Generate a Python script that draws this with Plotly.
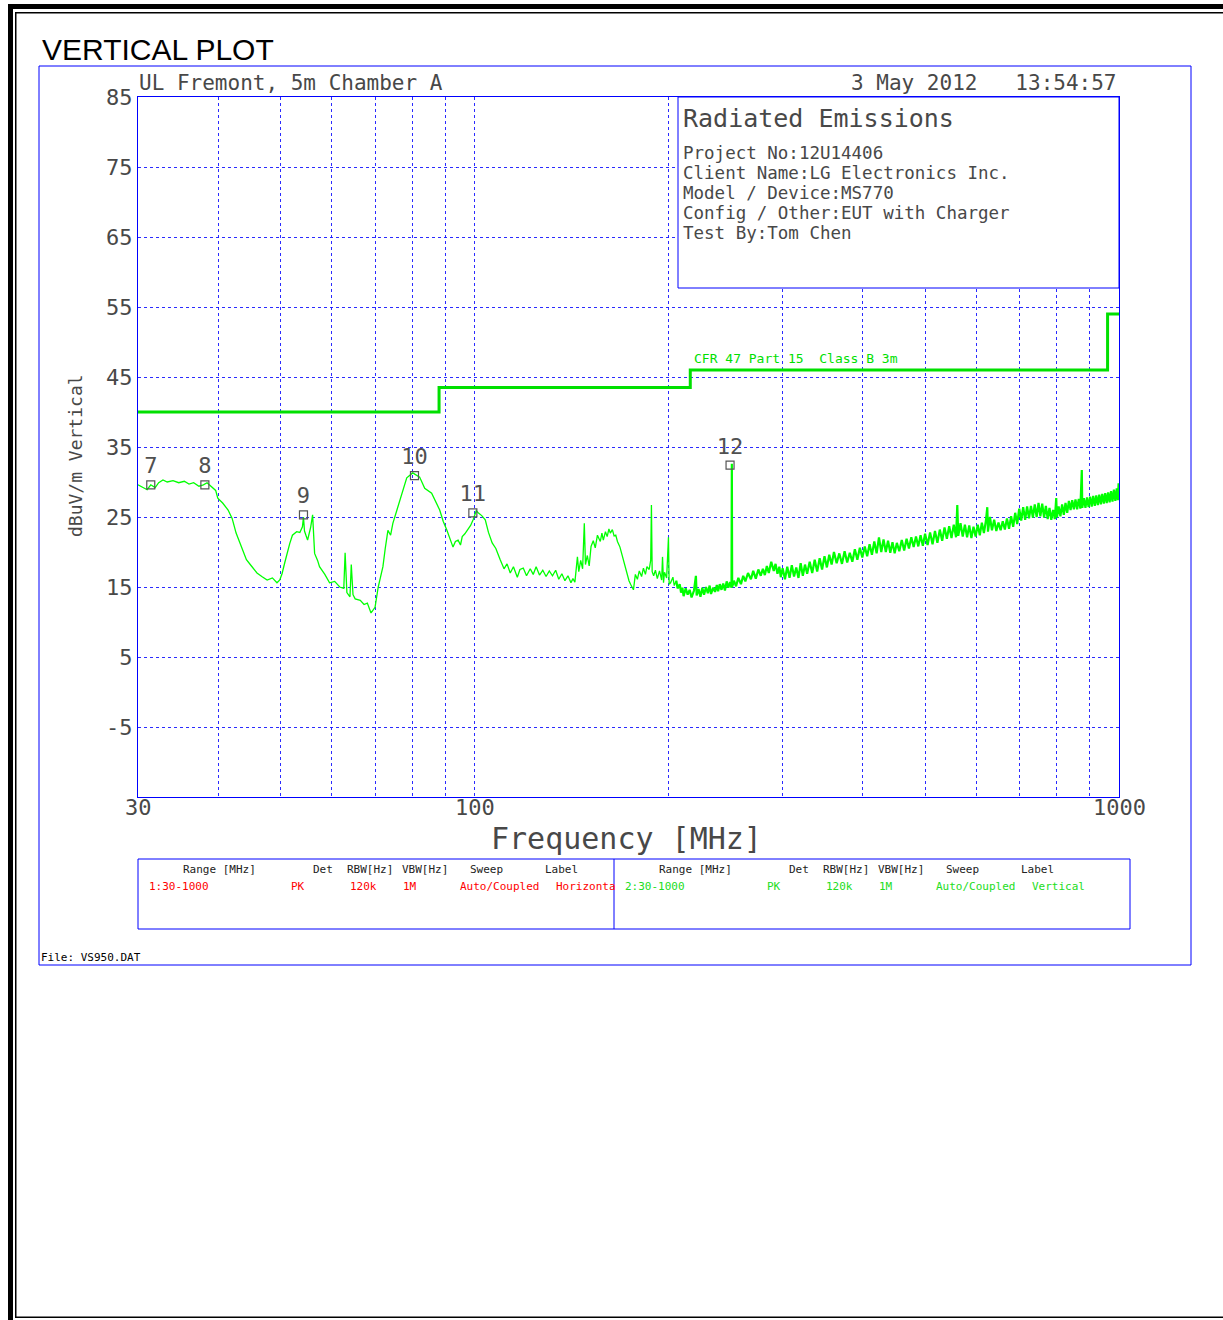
import math
import plotly.graph_objects as go

W, H = 1223, 1320

# ---------------- data ----------------
trace_freq = [
    30.0, 30.5, 31.0, 31.4, 31.9, 32.3, 32.8, 33.3, 34.0, 34.7, 35.4, 36.0, 36.6, 37.3, 37.9, 38.4, 39.0, 39.6,
    39.9, 40.6, 41.4, 42.0, 42.6, 43.4, 44.2, 45.0, 45.9, 46.7, 47.6, 48.5, 49.3, 49.8, 50.2, 50.7, 51.1, 51.6,
    52.1, 52.9, 53.5, 54.0, 54.2, 54.4, 55.0, 55.6, 56.0, 56.4, 57.0, 57.4, 58.5, 59.5, 60.6, 61.7, 62.6, 62.9,
    63.3, 64.0, 64.3, 64.7, 65.2, 66.4, 67.3, 68.1, 69.0, 70.0, 70.8, 72.0, 72.6, 73.3, 74.0, 74.6, 75.7, 77.0,
    78.4, 80.1, 81.0, 82.1, 83.6, 85.7, 88.2, 89.3, 90.5, 91.5, 92.5, 93.3, 94.2, 95.0, 95.6, 96.5, 97.3, 98.5,
    99.4, 100.5, 101.2, 102.5, 103.8, 105.0, 106.4, 107.8, 109.5, 111.0, 112.2, 113.5, 114.8, 116.4, 117.5, 118.9,
    120.3, 121.9, 123.2, 124.5, 126.0, 127.5, 129.0, 130.5, 132.0, 133.5, 135.0, 136.5, 138.0, 139.5, 141.0, 142.0,
    143.0, 144.3, 145.0, 146.0, 147.0, 147.9, 148.5, 149.5, 150.5, 151.5, 152.7, 153.8, 155.0, 156.6, 157.5, 158.3,
    159.5, 160.5, 161.5, 162.3, 163.5, 164.5, 165.5, 166.5, 168.0, 169.5, 171.0, 172.5, 173.5, 174.5, 175.5, 176.3,
    177.5, 178.8, 180.0, 181.5, 182.7, 184.0, 185.0, 186.5, 187.5, 188.0, 188.5, 189.5, 190.7, 192.0, 193.5, 195.0,
    195.6, 196.3, 197.0, 198.5, 199.8, 200.3, 201.3, 203.0, 204.0, 205.5, 206.4, 208.0, 209.0, 210.0, 210.9, 212.5,
    214.0, 215.5, 217.0, 218.9, 220.4, 221.0, 222.5, 224.0, 225.5, 226.9, 228.5, 230.0, 231.5, 232.6, 234.5, 236.0,
    237.5, 238.6, 240.0, 241.5, 243.0, 244.5, 246.0, 247.5, 249.0, 250.3, 250.6, 250.9, 252.5, 254.4, 256.5, 258.9,
    261.0, 263.0, 265.5, 268.3, 270.5, 273.0, 275.5, 277.9, 280.0, 282.0, 284.0, 286.0, 288.5, 291.1, 293.0, 295.0,
    297.0, 298.5, 300.5, 303.0, 305.5, 308.0, 310.5, 313.0, 315.5, 318.0, 320.5, 323.0, 325.5, 328.0, 331.0, 334.0,
    337.0, 340.0, 343.0, 346.0, 349.0, 352.0, 355.0, 358.0, 361.0, 364.5, 368.0, 371.5, 375.0, 378.5, 382.0, 385.5,
    389.0, 392.5, 396.0, 399.5, 403.0, 406.5, 410.0, 413.5, 417.0, 420.5, 424.0, 427.5, 431.0, 434.5, 438.0, 441.5,
    445.0, 448.5, 452.0, 456.0, 460.0, 464.0, 468.0, 472.0, 476.0, 480.0, 484.0, 488.0, 492.0, 496.0, 500.0, 504.5,
    509.0, 513.5, 518.0, 522.5, 527.0, 531.5, 536.0, 540.5, 545.0, 549.5, 554.0, 558.5, 561.0, 563.0, 567.5, 572.0,
    576.5, 581.0, 585.5, 590.0, 594.5, 599.0, 603.5, 608.0, 612.5, 617.0, 621.5, 624.5, 626.0, 630.5, 635.0, 640.0,
    645.0, 650.0, 655.0, 660.0, 665.0, 670.0, 675.0, 680.0, 685.0, 690.0, 695.0, 700.0, 705.0, 710.0, 715.0, 720.0,
    725.0, 730.0, 735.0, 740.0, 745.0, 750.0, 755.0, 760.0, 765.0, 770.0, 775.0, 780.0, 785.0, 790.0, 795.0, 799.0,
    801.0, 806.0, 811.0, 816.0, 821.0, 826.0, 831.0, 836.0, 841.0, 846.0, 851.0, 856.0, 861.0, 866.0, 871.0, 875.5,
    877.0, 882.0, 887.0, 892.0, 897.0, 902.0, 907.0, 912.0, 917.0, 922.0, 927.0, 932.0, 937.0, 942.0, 947.0, 952.0,
    957.0, 962.0, 967.0, 972.0, 977.0, 982.0, 987.0, 992.0, 996.0, 998.5, 1000.0,
]
trace_level = [
    29.6, 29.3, 28.9, 29.6, 29.2, 29.9, 30.3, 30.0, 30.2, 29.9, 30.1, 29.7, 29.9, 29.4, 29.6, 29.9, 29.4, 28.8,
    27.7, 27.0, 26.0, 24.8, 22.7, 20.8, 18.9, 18.0, 17.0, 16.5, 16.0, 16.3, 15.6, 16.0, 16.9, 18.5, 19.9, 21.2,
    22.4, 22.9, 22.8, 23.6, 25.0, 23.0, 21.7, 23.5, 25.3, 19.8, 18.8, 17.9, 16.8, 15.6, 15.8, 15.0, 14.8, 19.9,
    14.2, 13.6, 18.2, 13.9, 13.3, 13.1, 12.5, 12.7, 11.3, 12.1, 15.0, 17.9, 20.5, 23.1, 22.4, 24.1, 26.0, 28.4,
    30.6, 31.3, 31.0, 30.7, 29.1, 28.4, 26.0, 24.4, 23.1, 21.8, 20.7, 21.5, 21.7, 21.0, 22.2, 22.6, 23.1, 23.8,
    24.6, 25.9, 25.6, 25.2, 24.6, 22.8, 21.3, 20.5, 18.9, 17.6, 18.3, 17.0, 17.9, 16.4, 17.5, 17.7,
    16.6, 17.6, 16.8, 17.9, 16.7, 17.4, 16.5, 17.3, 16.6, 17.4, 16.1, 16.9, 15.9, 16.6, 15.6, 16.2,
    15.7, 19.3, 17.2, 18.8, 17.6, 24.1, 18.2, 19.5, 18.0, 20.8, 21.6, 20.6, 22.4, 21.5, 22.7, 21.7,
    22.9, 22.2, 23.3, 22.7, 23.2, 22.3, 22.4, 21.5, 20.7, 19.3, 17.9, 16.4, 15.9, 15.4, 15.0, 14.6,
    16.8, 16.1, 17.3, 16.5, 17.7, 16.8, 17.9, 17.5, 18.8, 26.7, 17.2, 16.6, 17.4, 16.2, 17.3, 16.0,
    19.3, 15.6, 17.1, 16.3, 22.1, 15.4, 15.6, 16.4, 15.2, 15.9, 14.8, 15.4, 14.2, 14.9, 13.7, 14.8,
    13.9, 14.6, 13.5, 14.5, 16.6, 13.8, 14.7, 13.6, 14.9, 13.9, 15.0, 14.1, 15.2, 14.0, 14.9, 14.3,
    15.3, 14.4, 15.4, 14.6, 15.5, 14.5, 15.8, 14.9, 15.7, 14.9, 32.6, 15.0, 15.9, 15.1, 16.3, 15.4,
    16.6, 15.8, 17.0, 16.1, 17.3, 16.2, 17.5, 16.6, 17.6, 16.7, 18.0, 17.0, 18.6, 17.3, 18.3, 16.9,
    17.9, 16.4, 17.7, 16.1, 17.9, 16.3, 18.1, 16.5, 17.8, 16.3, 18.4, 16.6, 18.2, 16.9, 18.6, 17.0,
    18.9, 17.2, 19.1, 17.5, 19.4, 17.8, 19.6, 18.2, 20.0, 18.4, 19.8, 18.3, 20.1, 18.5, 19.9, 18.6,
    20.4, 18.9, 20.6, 19.2, 20.8, 19.4, 21.1, 19.6, 21.5, 19.8, 22.1, 20.0, 21.8, 20.0, 21.6, 19.9,
    21.4, 19.8, 21.3, 20.1, 21.7, 20.2, 21.9, 20.5, 22.1, 20.7, 22.2, 20.8, 22.4, 20.9, 22.6, 21.0,
    22.8, 21.1, 23.0, 21.3, 23.2, 21.6, 23.5, 21.9, 23.7, 22.0, 23.9, 22.1, 26.7, 22.3, 24.1, 22.2,
    23.9, 22.1, 23.8, 22.0, 23.6, 22.2, 23.9, 22.4, 24.2, 22.7, 24.5, 26.4, 22.9, 25.0, 23.1, 24.6,
    23.0, 24.2, 23.1, 24.4, 23.2, 24.8, 23.3, 25.1, 23.6, 25.6, 24.0, 26.2, 24.5, 26.4, 24.6, 26.5,
    24.8, 26.6, 24.9, 26.8, 25.0, 27.0, 25.1, 26.9, 24.9, 26.6, 24.7, 26.3, 24.6, 26.0, 24.7, 27.7,
    24.9, 26.5, 25.1, 26.8, 25.3, 27.0, 25.6, 27.3, 26.0, 27.4, 26.1, 27.5, 26.1, 27.6, 26.2, 31.7,
    26.3, 27.7, 26.3, 27.8, 26.4, 27.9, 26.5, 28.0, 26.6, 28.1, 26.7, 28.2, 26.8, 28.3, 26.9, 28.4,
    27.0, 28.5, 27.1, 28.7, 27.2, 28.9, 27.3, 29.1, 27.4, 29.8, 28.6,
]

limit_freq = [30, 88, 216, 960, 1000]
limit_level = [40.0, 43.5, 46.0, 54.0, 54.0]

marker_freq = [31.4, 38.1, 54.2, 80.6, 99.3, 249.0]
marker_level = [29.6, 29.6, 25.3, 30.9, 25.6, 32.4]
marker_label = ["7", "8", "9", "10", "11", "12"]

x_grid = [30, 40, 50, 60, 70, 80, 90, 100, 200, 300, 400, 500, 600, 700, 800, 900, 1000]
x_label_vals = [30, 100, 1000]
x_label_text = ["30", "100", "1000"]
y_grid = [-15, -5, 5, 15, 25, 35, 45, 55, 65, 75, 85]
y_ticklabels = ["", "-5", "5", "15", "25", "35", "45", "55", "65", "75", "85"]

info_lines = [
    "Project No:12U14406",
    "Client Name:LG Electronics Inc.",
    "Model / Device:MS770",
    "Config / Other:EUT with Charger",
    "Test By:Tom Chen",
]
table_headers = ["Range [MHz]", "Det", "RBW[Hz]", "VBW[Hz]", "Sweep", "Label"]
table_row1 = ["1:30-1000", "PK", "120k", "1M", "Auto/Coupled", "Horizonta"]
table_row2 = ["2:30-1000", "PK", "120k", "1M", "Auto/Coupled", "Vertical"]

# ---------------- figure ----------------
MONO = "DejaVu Sans Mono, monospace"
TXT = "#484848"
BLUE = "#0000ff"
GRID = "rgba(20,20,255,0.9)"


def px(x):
    return x / W


def py(y):
    return 1 - y / H


# split the sweep where the dense noise band begins (drawn heavier, as in the analyser plot)
split = next(i for i, f in enumerate(trace_freq) if f >= 205.5)

fig = go.Figure()

fig.add_trace(go.Scatter(
    x=trace_freq[:split + 1], y=trace_level[:split + 1], mode="lines",
    line=dict(color="#00ff00", width=1.3), hoverinfo="skip",
))
fig.add_trace(go.Scatter(
    x=trace_freq[split:], y=trace_level[split:], mode="lines",
    line=dict(color="#00ff00", width=2.2), hoverinfo="skip",
))
fig.add_trace(go.Scatter(
    x=limit_freq, y=limit_level, mode="lines",
    line=dict(color="#00e000", width=3, shape="hv"), hoverinfo="skip",
))
fig.add_trace(go.Scatter(
    x=marker_freq, y=marker_level, mode="markers+text",
    text=marker_label, textposition="top center",
    textfont=dict(family=MONO, size=22, color="#505050"),
    marker=dict(symbol="square-open", size=8, color="#555555", line=dict(width=1.2, color="#555555")),
    hoverinfo="skip",
))

shapes = []


def rect(x0, y0, x1, y1, fill=None, line_color=None, lw=1):
    d = dict(type="rect", xref="paper", yref="paper",
             x0=px(x0), x1=px(x1), y0=py(y1), y1=py(y0), layer="above")
    if fill:
        d["fillcolor"] = fill
    if line_color:
        d["line"] = dict(color=line_color, width=lw)
    else:
        d["line"] = dict(width=0)
    shapes.append(d)


# black page frame
rect(8, 4, 1223, 9, fill="black")
rect(8, 4, 13, 1320, fill="black")
rect(15, 12, 1223, 13.5, fill="black")
rect(15, 12, 16.5, 1318, fill="black")
rect(15, 1316.5, 1223, 1318, fill="black")
# blue outer box
rect(39, 66, 1191, 965, line_color=BLUE, lw=1)
# info box
rect(678, 97, 1119, 288, fill="white", line_color=BLUE, lw=1)
# table box
rect(138, 859, 1130, 929, line_color=BLUE, lw=1)
shapes.append(dict(type="line", xref="paper", yref="paper", x0=px(614), x1=px(614),
                   y0=py(859), y1=py(929), line=dict(color=BLUE, width=1), layer="above"))

ann = []


def text(x, y, s, size, color=TXT, xanchor="left", family=MONO, angle=0):
    ann.append(dict(x=px(x), y=py(y), xref="paper", yref="paper", text=s, showarrow=False,
                    xanchor=xanchor, yanchor="middle", textangle=angle,
                    font=dict(family=family, size=size, color=color)))


text(40, 50, "VERTICAL PLOT", 30, color="black", family="Liberation Sans, Arial, sans-serif")
text(137, 83, "UL Fremont, 5m Chamber A", 21)
text(1119, 83, "3 May 2012   13:54:57", 21, xanchor="right")
text(681, 119, "Radiated Emissions", 25)
for i, s in enumerate(info_lines):
    text(681, 153 + 20 * i, s, 17.5)
text(626, 838, "Frequency [MHz]", 30, xanchor="center")
text(75, 456, "dBuV/m Vertical", 18, xanchor="center", angle=-90)
text(39, 957, "File: VS950.DAT", 11, color="black")

hdr_x = [181, 311, 345, 400, 468, 543]
row_x = [147, 289, 348, 401, 458, 554]
for off, row, col in [(0, table_row1, "#ff0000"), (476, table_row2, "#22dd22")]:
    for hx, h in zip(hdr_x, table_headers):
        text(hx + off, 869, h, 11, color="#222222")
    for rx, r in zip(row_x, row):
        text(rx + off, 886, r, 11, color=col)

# x tick labels (data x, paper y)
for v, s in zip(x_label_vals, x_label_text):
    ann.append(dict(x=math.log10(v), y=py(808), xref="x", yref="paper", text=s, showarrow=False,
                    xanchor="center", yanchor="middle", font=dict(family=MONO, size=22, color=TXT)))

# limit label (data coordinates)
ann.append(dict(x=math.log10(217), y=46.3, xref="x", yref="y", text="CFR 47 Part 15  Class B 3m",
                showarrow=False, xanchor="left", yanchor="bottom",
                font=dict(family=MONO, size=13, color="#00e000")))

fig.update_layout(
    width=W, height=H, autosize=False,
    margin=dict(l=0, r=0, t=0, b=0, pad=0, autoexpand=False),
    paper_bgcolor="white", plot_bgcolor="white", showlegend=False,
    shapes=shapes, annotations=ann,
    xaxis=dict(
        type="log", domain=[px(138), px(1119)], range=[math.log10(30), 3],
        tickvals=x_grid, showticklabels=False, ticks="", automargin=False,
        showgrid=True, gridcolor=GRID, gridwidth=1, griddash="3px,3px",
        showline=True, linecolor=BLUE, linewidth=1, mirror=True, zeroline=False,
    ),
    yaxis=dict(
        domain=[py(797), py(97)], range=[-15, 85], automargin=False,
        tickvals=y_grid, ticktext=y_ticklabels, ticks="",
        showgrid=True, gridcolor=GRID, gridwidth=1, griddash="3px,3px",
        showline=True, linecolor=BLUE, linewidth=1, mirror=True, zeroline=False,
        tickfont=dict(family=MONO, size=22, color=TXT),
    ),
)

post = (
    "document.documentElement.style.margin='0';document.documentElement.style.padding='0';"
    "document.body.style.margin='0';document.body.style.padding='0';document.body.style.overflow='hidden';"
    "var gd=document.getElementById('{plot_id}');"
    "Plotly.relayout(gd,{autosize:false,width:1223,height:1320});"
)
fig.write_html("out.html", config={"responsive": False, "displayModeBar": False}, post_script=post)
